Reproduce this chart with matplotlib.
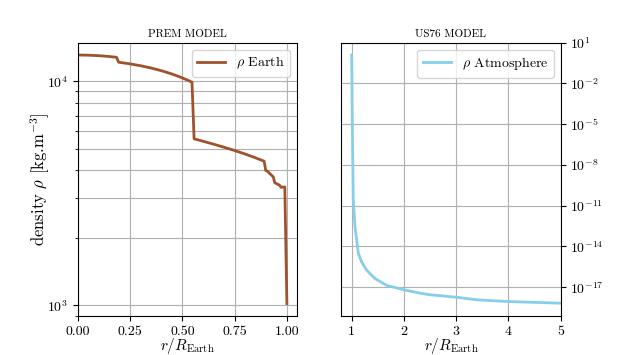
import matplotlib
matplotlib.use("Agg")
import matplotlib.pyplot as plt
from matplotlib.ticker import NullLocator

plt.rcParams['font.family'] = 'serif'
plt.rcParams['font.serif'] = ['cmr10', 'DejaVu Serif']
plt.rcParams['mathtext.fontset'] = 'cm'
plt.rcParams['axes.formatter.use_mathtext'] = True
plt.rcParams['axes.unicode_minus'] = False

# PREM model: normalized radius and density [kg/m^3]
r_earth = [0.0, 0.05, 0.10, 0.15, 0.185, 0.195, 0.25, 0.30, 0.35, 0.40, 0.45,
           0.50, 0.546, 0.556, 0.60, 0.65, 0.70, 0.75, 0.80, 0.85, 0.891,
           0.899, 0.906, 0.935, 0.942, 0.965, 0.972, 0.990, 1.0]
rho_earth = [13088, 13066, 13000, 12890, 12786, 12156, 11951, 11725, 11456,
             11140, 10772, 10348, 9906, 5535, 5396, 5237, 5075, 4909, 4736,
             4554, 4400, 3995, 3975, 3742, 3525, 3438, 3364, 3377, 1020]

# US76 atmosphere: normalized radius and density [kg/m^3]
r_atm = [1.0, 1.005, 1.012, 1.03, 1.064, 1.128, 1.19, 1.29, 1.45, 1.67, 1.99,
         2.31, 2.50, 3.01, 3.40, 4.0, 5.0]
rho_atm = [1.225, 1e-2, 1e-5, 2.6e-11, 2.7e-13, 3.0e-15, 7.1e-16, 1.7e-16,
           4.2e-17, 1.35e-17, 6.5e-18, 3.6e-18, 2.75e-18, 1.8e-18, 1.17e-18,
           8.7e-19, 6.6e-19]

x1_ticks = [0.0, 0.25, 0.5, 0.75, 1.0]
x1_labels = ['0.00', '0.25', '0.50', '0.75', '1.00']
x2_ticks = [1, 2, 3, 4, 5]
x2_labels = ['1', '2', '3', '4', '5']

fig, (ax1, ax2) = plt.subplots(1, 2, figsize=(6.23, 3.55), dpi=100)

ax1.plot(r_earth, rho_earth, color='sienna', lw=2, label=r'$\rho$ Earth')
ax1.set_yscale('log')
ax1.set_xlim(0, 1.05)
ax1.set_xticks(x1_ticks)
ax1.set_xticklabels(x1_labels)
ax1.grid(True, which='both')
ax1.set_axisbelow(True)
ax1.set_title('PREM MODEL', fontsize=8, pad=4)
ax1.set_xlabel(r'$r/R_{\rm Earth}$', fontsize=11)
ax1.set_ylabel(r'density $\rho$ [kg.m$^{-3}$]', fontsize=12)
ax1.yaxis.set_label_coords(-0.118, 0.5)
ax1.legend(loc='upper right', fontsize=10)

ax2.plot(r_atm, rho_atm, color='skyblue', lw=2, label=r'$\rho$ Atmosphere')
ax2.set_yscale('log')
ax2.set_xlim(0.8, 5)
ax2.set_xticks(x2_ticks)
ax2.set_xticklabels(x2_labels)
ax2.set_ylim(10**-19.12, 10**1.0)
ax2.set_yticks([1e1, 1e-2, 1e-5, 1e-8, 1e-11, 1e-14, 1e-17])
ax2.yaxis.set_minor_locator(NullLocator())
ax2.yaxis.tick_right()
ax2.grid(True, which='major')
ax2.set_title('US76 MODEL', fontsize=8, pad=4)
ax2.set_xlabel(r'$r/R_{\rm Earth}$', fontsize=11)
ax2.legend(loc='upper right', fontsize=10)

for ax in (ax1, ax2):
    ax.tick_params(labelsize=10)
    ax.xaxis.set_label_coords(0.5, -0.075)

fig.savefig('out.png', dpi=100)
